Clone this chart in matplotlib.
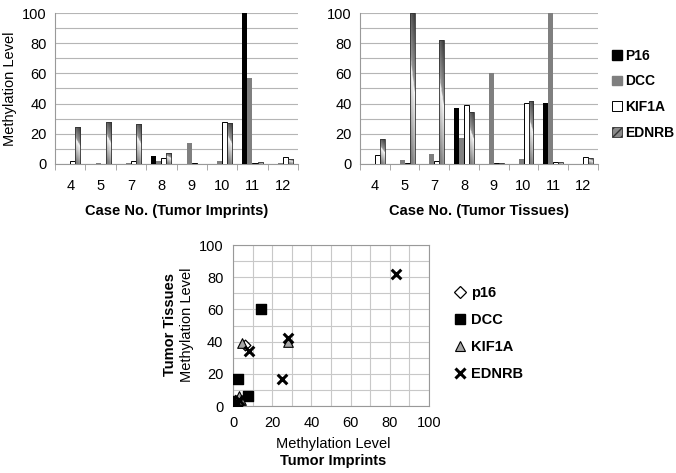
import numpy as np
import matplotlib.pyplot as plt
from matplotlib.lines import Line2D
from matplotlib.patches import Patch

plt.rcParams['font.family'] = ['Liberation Sans', 'DejaVu Sans']
plt.rcParams['font.size'] = 10

cases = ['4', '5', '7', '8', '9', '10', '11', '12']
genes = ['P16', 'DCC', 'KIF1A', 'EDNRB']

# tumor imprints, methylation level per case
imp_p16 = [0, 0, 0, 5, 0, 0, 100, 0]
imp_dcc = [0, 0.5, 0.5, 2, 14, 2, 57, 0.5]
imp_kif1a = [2, 0, 2, 4, 0.5, 27.5, 0.5, 4.5]
imp_ednrb = [24.5, 27.5, 26.5, 7.5, 0.3, 27, 1.5, 3.5]

# tumor tissues
tis_p16 = [0, 0, 0, 37, 0, 0.3, 40.5, 0.3]
tis_dcc = [0, 2.5, 6.5, 17, 60, 3, 100, 0]
tis_kif1a = [6, 0.5, 2, 39, 0.5, 40.5, 1.5, 4.5]
tis_ednrb = [16.5, 100, 82, 34.5, 0.5, 42, 1.5, 4]

# scatter: imprint level (x) vs tissue level (y)
sc_p16_x = [6, 0, 1, 0.5, 2, 3]
sc_p16_y = [38, 0, 0.5, 0, 1, 3]
sc_dcc_x = [14.5, 2.7, 7.5, 1, 0.5, 2]
sc_dcc_y = [60, 17, 6.5, 2.5, 0, 3]
sc_kif_x = [4.5, 28, 3, 2, 4, 1, 0.5]
sc_kif_y = [39, 40, 6.5, 2, 4, 1, 0.5]
sc_edn_x = [83, 28, 25, 8.3, 1, 3, 2]
sc_edn_y = [82, 42, 16.5, 34, 1, 4, 2]


def gradient_img():
    # gray fill with a light diagonal band, like the Excel gradient bars
    rows, cols = 60, 12
    u = np.linspace(1, 0, rows)[:, None]
    v = np.linspace(0, 1, cols)[None, :]
    t = u + 0.25 * (v - 0.5)
    img = np.where(t > 0.6, 0.32 + 0.3 * (1 - t) / 0.4,
                   0.5 + 0.48 * np.clip(t / 0.6, 0, 1))
    return img


def bar_panel(ax, vals):
    x = np.arange(len(cases))
    w = 0.1667
    styles = [dict(color='black'),
              dict(color='#7f7f7f'),
              dict(facecolor='white', edgecolor='black', linewidth=0.7),
              dict(facecolor='none', edgecolor='#333333', linewidth=0.6)]
    img = gradient_img()
    for k, v in enumerate(vals):
        bars = ax.bar(x + (k - 1.5) * w, v, w, zorder=3, **styles[k])
        if k == 3:
            for b in bars:
                if b.get_height() <= 0:
                    continue
                im = ax.imshow(img, cmap='gray', vmin=0, vmax=1, aspect='auto',
                               extent=(b.get_x(), b.get_x() + w, 0, b.get_height()),
                               zorder=2.5, interpolation='bilinear')
                im.set_clip_path(b)
    ax.set_xlim(-0.5, len(cases) - 0.5)
    ax.set_ylim(0, 100)
    ax.set_yticks(np.arange(0, 101, 20))
    ax.set_yticks(np.arange(10, 100, 20), minor=True)
    ax.set_xticks(x)
    ax.set_xticklabels(cases)
    ax.set_xticks(np.arange(-0.5, len(cases)), minor=True)
    ax.tick_params(axis='x', which='major', length=0, pad=11, labelsize=10.5)
    ax.tick_params(axis='x', which='minor', length=4, color='#999999')
    ax.tick_params(axis='y', which='both', length=0, labelsize=10.5, pad=6)
    ax.grid(axis='y', which='both', color='#b5b5b5', linewidth=0.8, zorder=0)
    ax.set_axisbelow(True)
    for s in ['top', 'right']:
        ax.spines[s].set_visible(False)
    for s in ['left', 'bottom']:
        ax.spines[s].set_color('#999999')
        ax.spines[s].set_linewidth(0.8)


fig = plt.figure(figsize=(6.76, 4.73), dpi=100)

ax1 = fig.add_axes([0.0814, 0.6533, 0.3595, 0.3192])
bar_panel(ax1, [imp_p16, imp_dcc, imp_kif1a, imp_ednrb])
ax1.set_ylabel('Methylation Level', fontsize=10.5, labelpad=4)
ax1.set_xlabel('Case No. (Tumor Imprints)', fontsize=10.5, fontweight='bold', labelpad=8)

ax2 = fig.add_axes([0.5325, 0.6533, 0.352, 0.3192])
bar_panel(ax2, [tis_p16, tis_dcc, tis_kif1a, tis_ednrb])
ax2.set_xlabel('Case No. (Tumor Tissues)', fontsize=10.5, fontweight='bold', labelpad=8)

bar_handles = [Patch(facecolor='black', edgecolor='black'),
               Patch(facecolor='#7f7f7f', edgecolor='#7f7f7f'),
               Patch(facecolor='white', edgecolor='black', linewidth=0.7),
               Patch(facecolor='#8a8a8a', edgecolor='#333333', hatch='////', linewidth=0.6)]
fig.legend(bar_handles, genes, loc='upper left', bbox_to_anchor=(0.893, 0.915),
           frameon=False, handlelength=0.7, handleheight=0.7, handletextpad=0.25,
           borderaxespad=0.2, labelspacing=0.85, prop=dict(weight='bold', size=10))

ax3 = fig.add_axes([0.3447, 0.1416, 0.29, 0.3404])
ax3.scatter(sc_p16_x, sc_p16_y, marker='D', s=30, facecolor='white',
            edgecolor='black', linewidth=0.9, zorder=3)
ax3.scatter(sc_dcc_x, sc_dcc_y, marker='s', s=42, color='black', zorder=3)
ax3.scatter(sc_kif_x, sc_kif_y, marker='^', s=48, facecolor='#a6a6a6',
            edgecolor='black', linewidth=0.8, zorder=3)
ax3.scatter(sc_edn_x, sc_edn_y, marker='x', s=48, color='black', linewidth=2.2, zorder=4)
ax3.set_xlim(0, 100)
ax3.set_ylim(0, 100)
ax3.set_xticks(np.arange(0, 101, 20))
ax3.set_yticks(np.arange(0, 101, 20))
ax3.set_xticks(np.arange(10, 100, 20), minor=True)
ax3.set_yticks(np.arange(10, 100, 20), minor=True)
ax3.grid(which='both', color='#c8c8c8', linewidth=0.8, zorder=0)
ax3.set_axisbelow(True)
ax3.tick_params(which='both', length=0, labelsize=10.5, pad=7)
for s in ax3.spines.values():
    s.set_color('#999999')
    s.set_linewidth(0.8)

fig.text(0.2515, 0.313, 'Tumor Tissues', rotation=90, ha='center', va='center',
         fontsize=10.5, fontweight='bold')
fig.text(0.2765, 0.313, 'Methylation Level', rotation=90, ha='center', va='center',
         fontsize=10.5)
fig.text(0.4925, 0.062, 'Methylation Level', ha='center', va='center', fontsize=10.5)
fig.text(0.4925, 0.026, 'Tumor Imprints', ha='center', va='center', fontsize=10.5,
         fontweight='bold')

sc_handles = [Line2D([], [], marker='D', ls='none', ms=6, mfc='white', mec='black', mew=0.9),
              Line2D([], [], marker='s', ls='none', ms=7, color='black'),
              Line2D([], [], marker='^', ls='none', ms=7.5, mfc='#a6a6a6', mec='black', mew=0.8),
              Line2D([], [], marker='x', ls='none', ms=7, color='black', mew=2.2)]
fig.legend(sc_handles, ['p16', 'DCC', 'KIF1A', 'EDNRB'], loc='upper left',
           bbox_to_anchor=(0.653, 0.423), frameon=False, handlelength=0.8,
           handletextpad=0.3, labelspacing=0.9, prop=dict(weight='bold', size=10.5))

fig.savefig('out.png', dpi=100)
